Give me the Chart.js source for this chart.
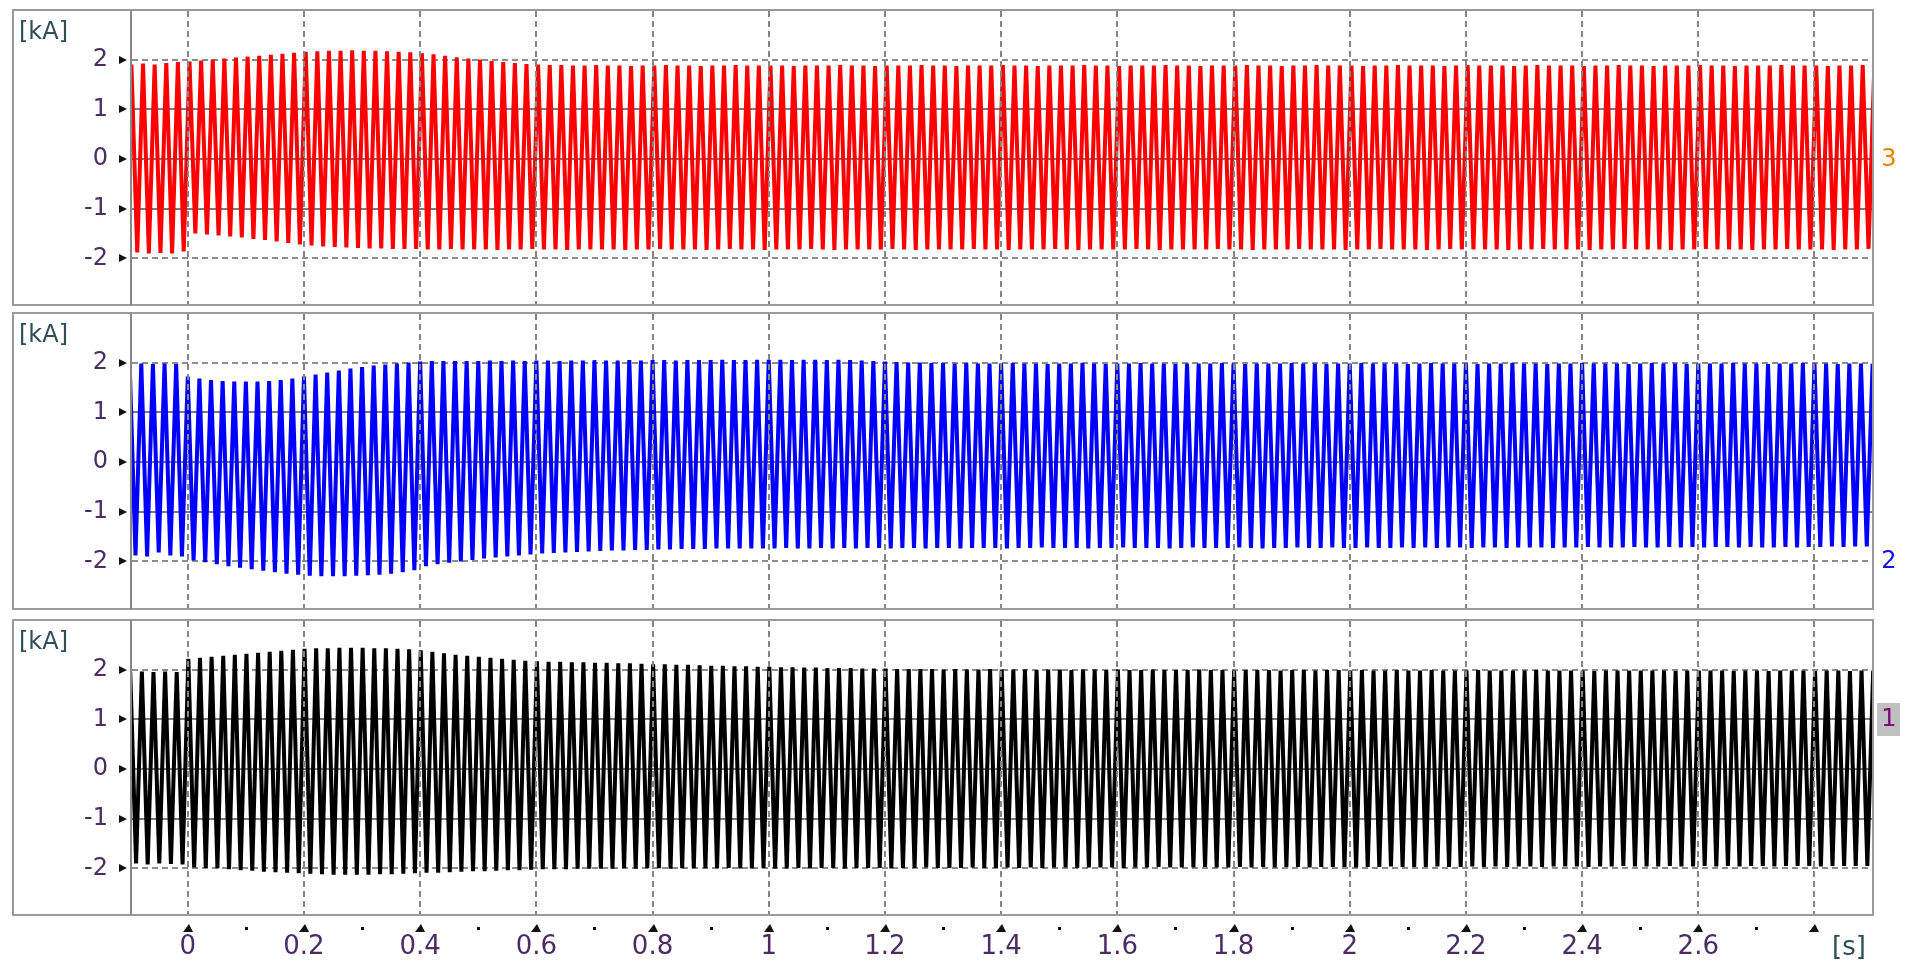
<!DOCTYPE html>
<html><head><meta charset="utf-8">
<script src="https://cdn.jsdelivr.net/npm/chart.js@4.4.1/dist/chart.umd.min.js"></script>
<style>
html,body{margin:0;padding:0;background:#fff;width:1910px;height:963px;overflow:hidden}
canvas{position:absolute;left:0;top:0}
</style></head><body>
<canvas id="c1" width="1910" height="963"></canvas>
<canvas id="c2" width="1910" height="963"></canvas>
<canvas id="c3" width="1910" height="963"></canvas>
<script>
// ---- axes ----
const timeMin = -0.096, timeMax = 2.899;           // [s]
const yMin = -2.94, yMax = 2.98;                    // [kA]
const yTickValues = [-2, -1, 0, 1, 2];
const yTickLabels = ['-2', '-1', '0', '1', '2'];
const xTickValues = [0, 0.2, 0.4, 0.6, 0.8, 1, 1.2, 1.4, 1.6, 1.8, 2, 2.2, 2.4, 2.6, 2.8];
const xTickLabels = ['0', '0.2', '0.4', '0.6', '0.8', '1', '1.2', '1.4', '1.6', '1.8', '2', '2.2', '2.4', '2.6', ''];
const xMinorTicks = [0.1, 0.3, 0.5, 0.7, 0.9, 1.1, 1.3, 1.5, 1.7, 1.9, 2.1, 2.3, 2.5, 2.7];
const yUnit = '[kA]', xUnit = '[s]';

// ---- signals: positive / negative peak of every 50 Hz cycle (kA) ----
const halfPeriod = 0.01;
const redStart = -0.097, blueStart = -0.100, blackStart = -0.099;

const redPos = [
1.90,1.92,1.90,1.93,1.95,1.96,1.98,2.00,2.02,2.04,
2.06,2.08,2.10,2.12,2.14,2.16,2.17,2.18,2.18,2.19,
2.18,2.18,2.17,2.16,2.15,2.13,2.11,2.08,2.05,2.02,
2.00,1.97,1.95,1.93,1.91,1.90,1.89,1.89,1.88,1.88,
1.89,1.88,1.88,1.87,1.88,1.88,1.89,1.88,1.88,1.87,
1.88,1.88,1.89,1.88,1.88,1.88,1.88,1.87,1.88,1.88,
1.88,1.89,1.88,1.88,1.87,1.88,1.88,1.88,1.89,1.88,
1.88,1.87,1.88,1.88,1.88,1.89,1.88,1.88,1.87,1.88,
1.88,1.88,1.89,1.88,1.88,1.87,1.88,1.88,1.88,1.89,
1.88,1.88,1.87,1.88,1.88,1.88,1.89,1.88,1.88,1.87,
1.88,1.88,1.89,1.88,1.88,1.88,1.87,1.88,1.88,1.89,
1.88,1.88,1.88,1.87,1.88,1.89,1.88,1.88,1.88,1.87,
1.88,1.89,1.88,1.88,1.88,1.87,1.88,1.88,1.89,1.88,
1.88,1.87,1.88,1.88,1.88,1.89,1.88,1.88,1.87,1.88,
1.88,1.88,1.89,1.88,1.88,1.88,1.87,1.88,1.88,1.89,
1.88];
const redNeg = [
-1.88,-1.90,-1.89,-1.90,-1.86,-1.50,-1.52,-1.54,-1.56,-1.58,
-1.61,-1.63,-1.66,-1.69,-1.72,-1.74,-1.76,-1.77,-1.78,-1.79,
-1.80,-1.80,-1.81,-1.81,-1.81,-1.82,-1.82,-1.81,-1.82,-1.82,
-1.82,-1.83,-1.82,-1.82,-1.81,-1.82,-1.82,-1.83,-1.82,-1.82,
-1.82,-1.82,-1.83,-1.82,-1.82,-1.81,-1.82,-1.82,-1.82,-1.83,
-1.82,-1.81,-1.82,-1.82,-1.83,-1.82,-1.82,-1.82,-1.81,-1.82,
-1.83,-1.82,-1.82,-1.82,-1.82,-1.81,-1.82,-1.83,-1.82,-1.82,
-1.82,-1.82,-1.81,-1.82,-1.82,-1.83,-1.82,-1.82,-1.82,-1.81,
-1.82,-1.83,-1.82,-1.82,-1.82,-1.82,-1.81,-1.82,-1.83,-1.82,
-1.82,-1.82,-1.82,-1.81,-1.82,-1.82,-1.83,-1.82,-1.82,-1.82,
-1.81,-1.82,-1.82,-1.82,-1.83,-1.82,-1.82,-1.81,-1.82,-1.82,
-1.82,-1.83,-1.82,-1.81,-1.82,-1.82,-1.82,-1.82,-1.83,-1.82,
-1.82,-1.81,-1.82,-1.82,-1.82,-1.83,-1.82,-1.82,-1.81,-1.82,
-1.82,-1.82,-1.83,-1.82,-1.82,-1.81,-1.82,-1.82,-1.82,-1.83,
-1.82,-1.82,-1.81,-1.82,-1.82,-1.82,-1.83,-1.82,-1.82,-1.81];

const bluePos = [
1.97,1.98,1.97,1.98,1.97,1.72,1.68,1.65,1.63,1.62,
1.62,1.62,1.63,1.65,1.68,1.72,1.76,1.80,1.84,1.88,
1.91,1.94,1.96,1.98,2.00,2.02,2.03,2.03,2.03,2.03,
2.03,2.04,2.03,2.04,2.03,2.04,2.04,2.03,2.04,2.04,
2.05,2.04,2.04,2.05,2.04,2.05,2.05,2.04,2.05,2.05,
2.05,2.06,2.05,2.05,2.06,2.06,2.06,2.05,2.06,2.06,
2.05,2.06,2.05,2.04,2.03,2.02,2.01,2.00,2.00,1.99,
1.99,1.98,1.99,1.98,1.98,1.98,1.99,1.98,1.98,1.97,
1.98,1.98,1.99,1.98,1.97,1.98,1.98,1.99,1.98,1.98,
1.97,1.98,1.98,1.98,1.99,1.98,1.97,1.98,1.98,1.98,
1.99,1.98,1.98,1.97,1.98,1.98,1.99,1.98,1.98,1.98,
1.97,1.98,1.99,1.98,1.98,1.98,1.97,1.98,1.98,1.99,
1.98,1.98,1.97,1.98,1.98,1.99,1.98,1.98,1.98,1.97,
1.98,1.99,1.98,1.98,1.97,1.98,1.98,1.98,1.99,1.98,
1.98,1.97,1.98,1.98,1.99,1.98,1.98,1.97,1.98,1.98,
1.98];
const blueNeg = [
-1.88,-1.90,-1.82,-1.88,-1.90,-1.98,-2.02,-2.06,-2.10,-2.13,
-2.16,-2.19,-2.22,-2.25,-2.27,-2.29,-2.30,-2.30,-2.30,-2.29,
-2.28,-2.27,-2.25,-2.22,-2.18,-2.10,-2.06,-2.03,-2.00,-1.97,
-1.94,-1.92,-1.90,-1.88,-1.86,-1.84,-1.83,-1.82,-1.81,-1.80,
-1.79,-1.78,-1.78,-1.77,-1.77,-1.76,-1.76,-1.75,-1.75,-1.75,
-1.74,-1.74,-1.74,-1.74,-1.74,-1.74,-1.73,-1.74,-1.74,-1.73,
-1.74,-1.73,-1.74,-1.73,-1.73,-1.74,-1.73,-1.73,-1.74,-1.73,
-1.73,-1.74,-1.73,-1.73,-1.73,-1.74,-1.73,-1.73,-1.72,-1.73,
-1.73,-1.73,-1.74,-1.73,-1.73,-1.72,-1.73,-1.73,-1.73,-1.74,
-1.73,-1.72,-1.73,-1.73,-1.73,-1.72,-1.73,-1.74,-1.73,-1.73,
-1.72,-1.73,-1.73,-1.72,-1.73,-1.73,-1.72,-1.73,-1.73,-1.72,
-1.73,-1.72,-1.73,-1.72,-1.72,-1.73,-1.72,-1.72,-1.73,-1.72,
-1.72,-1.72,-1.73,-1.72,-1.72,-1.71,-1.72,-1.72,-1.72,-1.71,
-1.72,-1.72,-1.71,-1.72,-1.71,-1.72,-1.71,-1.71,-1.72,-1.71,
-1.72,-1.72,-1.71,-1.72,-1.71,-1.71,-1.70,-1.71,-1.70,-1.70];

const blackPos = [
1.95,1.96,1.95,1.96,1.95,2.22,2.24,2.26,2.28,2.30,
2.32,2.34,2.36,2.38,2.40,2.42,2.43,2.43,2.44,2.44,
2.44,2.43,2.43,2.42,2.41,2.39,2.36,2.33,2.30,2.28,
2.26,2.24,2.22,2.20,2.18,2.17,2.16,2.16,2.15,2.15,
2.14,2.14,2.13,2.13,2.12,2.11,2.11,2.10,2.10,2.09,
2.08,2.08,2.07,2.07,2.06,2.06,2.05,2.05,2.04,2.04,
2.03,2.03,2.03,2.02,2.02,2.02,2.01,2.01,2.01,2.01,
2.00,2.01,2.00,2.00,2.01,2.00,2.00,2.00,1.99,2.00,
2.00,1.99,2.00,2.00,1.99,2.00,1.99,1.99,2.00,1.99,
1.99,1.99,2.00,1.99,1.99,1.98,1.99,1.99,1.99,1.98,
1.99,1.99,1.98,1.99,1.99,1.98,1.99,1.98,1.98,1.99,
1.98,1.98,1.99,1.98,1.98,1.98,1.99,1.98,1.98,1.98,
1.98,1.99,1.98,1.98,1.98,1.98,1.97,1.98,1.98,1.98,
1.98,1.98,1.98,1.97,1.98,1.98,1.98,1.98,1.97,1.98,
1.98,1.97,1.98,1.98,1.98,1.97,1.98,1.98,1.97,1.98,
1.98];
const blackNeg = [
-1.90,-1.92,-1.90,-1.91,-1.92,-1.98,-1.99,-2.00,-2.02,-2.04,
-2.05,-2.07,-2.08,-2.09,-2.10,-2.11,-2.12,-2.13,-2.13,-2.13,
-2.13,-2.12,-2.12,-2.11,-2.10,-2.09,-2.09,-2.08,-2.07,-2.06,
-2.06,-2.05,-2.04,-2.04,-2.03,-2.02,-2.02,-2.02,-2.01,-2.01,
-2.01,-2.01,-2.00,-2.01,-2.00,-2.00,-2.01,-2.00,-2.00,-2.00,
-2.00,-1.99,-2.00,-2.00,-1.99,-2.00,-2.00,-1.99,-2.00,-1.99,
-1.99,-2.00,-1.99,-1.99,-1.99,-2.00,-1.99,-1.99,-1.98,-1.99,
-1.99,-1.99,-1.98,-1.99,-1.99,-1.98,-1.99,-1.98,-1.99,-1.98,
-1.98,-1.99,-1.98,-1.98,-1.98,-1.99,-1.98,-1.98,-1.97,-1.98,
-1.98,-1.98,-1.97,-1.98,-1.98,-1.97,-1.98,-1.97,-1.98,-1.97,
-1.97,-1.98,-1.97,-1.97,-1.97,-1.98,-1.97,-1.97,-1.96,-1.97,
-1.97,-1.97,-1.96,-1.97,-1.97,-1.96,-1.97,-1.96,-1.97,-1.96,
-1.96,-1.97,-1.96,-1.96,-1.96,-1.97,-1.96,-1.96,-1.95,-1.96,
-1.96,-1.96,-1.95,-1.96,-1.96,-1.95,-1.96,-1.95,-1.96,-1.95,
-1.95,-1.96,-1.95,-1.95,-1.95,-1.96,-1.95,-1.95,-1.95,-1.95];

function peakPoints(start, pos, neg) {
  const pts = [];
  for (let k = 0; k < pos.length; k++) {
    pts.push({ x: start + 2 * halfPeriod * k, y: pos[k] });
    if (k < neg.length) pts.push({ x: start + halfPeriod * (2 * k + 1), y: neg[k] });
  }
  return pts;
}

const labelColor = '#4b2d63';
const FONT = "'DejaVu Sans', Verdana, sans-serif";

const panels = [
  { id: 'c1', top: 11, bottom: 305, frameTop: 10, frameBottom: 305, color: '#ff0000',
    data: peakPoints(redStart, redPos, redNeg), tag: '3', tagColor: '#f08000', tagValue: 0, tagBox: false, last: false },
  { id: 'c2', top: 314, bottom: 608, frameTop: 313, frameBottom: 609, color: '#0000ff',
    data: peakPoints(blueStart, bluePos, blueNeg), tag: '2', tagColor: '#1010ff', tagValue: -2, tagBox: false, last: false },
  { id: 'c3', top: 621, bottom: 915, frameTop: 620, frameBottom: 915, color: '#000000',
    data: peakPoints(blackStart, blackPos, blackNeg), tag: '1', tagColor: '#800080', tagValue: 1, tagBox: true, last: true }
];

const deco = {
  id: 'deco',
  beforeDatasetsDraw(chart, args, o) {
    const { ctx, chartArea: a, scales: { y } } = chart;
    ctx.save();
    ctx.lineWidth = 2;
    yTickValues.forEach(v => {
      const py = Math.round(y.getPixelForValue(v));
      const dashed = Math.abs(v) === 2;
      ctx.strokeStyle = dashed ? '#8c8c8c' : '#7c7c7c';
      ctx.setLineDash(dashed ? [6, 4] : []);
      ctx.beginPath(); ctx.moveTo(a.left, py); ctx.lineTo(a.right, py); ctx.stroke();
    });
    ctx.restore();
  },
  afterDatasetsDraw(chart, args, o) {
    const { ctx, chartArea: a, scales: { x, y } } = chart;
    ctx.save();
    // vertical dashed grid
    ctx.lineWidth = 2; ctx.strokeStyle = '#858585'; ctx.setLineDash([6, 4]);
    xTickValues.forEach(v => {
      const px = Math.round(x.getPixelForValue(v));
      ctx.beginPath(); ctx.moveTo(px, a.top); ctx.lineTo(px, a.bottom); ctx.stroke();
    });
    ctx.setLineDash([]);
    // frame
    ctx.strokeStyle = '#9a9a9a'; ctx.lineWidth = 2;
    ctx.strokeRect(13, o.frameTop, 1860, o.frameBottom - o.frameTop);
    ctx.strokeStyle = '#888888';
    ctx.beginPath(); ctx.moveTo(131, o.frameTop); ctx.lineTo(131, o.frameBottom); ctx.stroke();
    // y tick markers
    ctx.fillStyle = '#111';
    yTickValues.forEach(v => {
      const py = Math.round(y.getPixelForValue(v));
      ctx.beginPath(); ctx.moveTo(119, py - 4); ctx.lineTo(127, py); ctx.lineTo(119, py + 4); ctx.closePath(); ctx.fill();
    });
    // unit
    ctx.font = '24px ' + FONT; ctx.fillStyle = '#2e4e58'; ctx.textAlign = 'left'; ctx.textBaseline = 'middle';
    ctx.fillText(yUnit, 19, o.frameTop + 23);
    // trace tag at right
    const ty = Math.round(y.getPixelForValue(o.tagValue));
    if (o.tagBox) { ctx.fillStyle = '#c0c0c0'; ctx.fillRect(1877, ty - 16, 23, 33); }
    ctx.fillStyle = o.tagColor; ctx.textAlign = 'center'; ctx.font = '24px ' + FONT;
    ctx.fillText(o.tag, 1889, ty + 1);
    // bottom axis marks
    if (o.last) {
      ctx.fillStyle = '#111';
      xTickValues.forEach(v => {
        const px = Math.round(x.getPixelForValue(v));
        ctx.beginPath(); ctx.moveTo(px - 5, 932); ctx.lineTo(px + 5, 932); ctx.lineTo(px + 1, 924); ctx.closePath(); ctx.fill();
      });
      xMinorTicks.forEach(v => {
        const px = Math.round(x.getPixelForValue(v));
        ctx.fillRect(px - 1, 927, 3, 3);
      });
      ctx.fillStyle = '#2e4e58'; ctx.font = '26px ' + FONT; ctx.textAlign = 'center'; ctx.textBaseline = 'middle';
      ctx.fillText(xUnit, 1849, 948);
    }
    ctx.restore();
  }
};

panels.forEach(p => {
  new Chart(document.getElementById(p.id).getContext('2d'), {
    type: 'line',
    data: { datasets: [{ data: p.data, borderColor: p.color, borderWidth: 4, pointRadius: 0,
      tension: 0, borderJoinStyle: 'bevel', fill: false }] },
    plugins: [deco],
    options: {
      responsive: false, animation: false, devicePixelRatio: 1, parsing: false, normalized: true, events: [],
      layout: { padding: { left: 13, right: 38, top: p.top, bottom: p.last ? 0 : 963 - p.bottom } },
      plugins: { legend: { display: false }, tooltip: { enabled: false }, deco: p },
      scales: {
        x: { type: 'linear', min: timeMin, max: timeMax, display: p.last,
          grid: { display: false, drawTicks: false }, border: { display: false },
          afterBuildTicks: s => { s.ticks = xTickValues.map(v => ({ value: v })); },
          afterFit: s => { if (p.last) s.height = 963 - p.bottom; s.paddingLeft = 0; s.paddingRight = 0; },
          ticks: { autoSkip: false, maxRotation: 0, padding: 17, color: labelColor,
            font: { family: FONT, size: 26 }, callback: (v, i) => xTickLabels[i] } },
        y: { type: 'linear', min: yMin, max: yMax,
          grid: { display: false, drawTicks: false }, border: { display: false },
          afterBuildTicks: s => { s.ticks = yTickValues.map(v => ({ value: v })); },
          afterFit: s => { s.width = 119; s.paddingTop = 0; s.paddingBottom = 0; },
          ticks: { padding: 24, color: labelColor, font: { family: FONT, size: 24 },
            callback: (v, i) => yTickLabels[i] } }
      }
    }
  });
});
</script>
</body></html>
